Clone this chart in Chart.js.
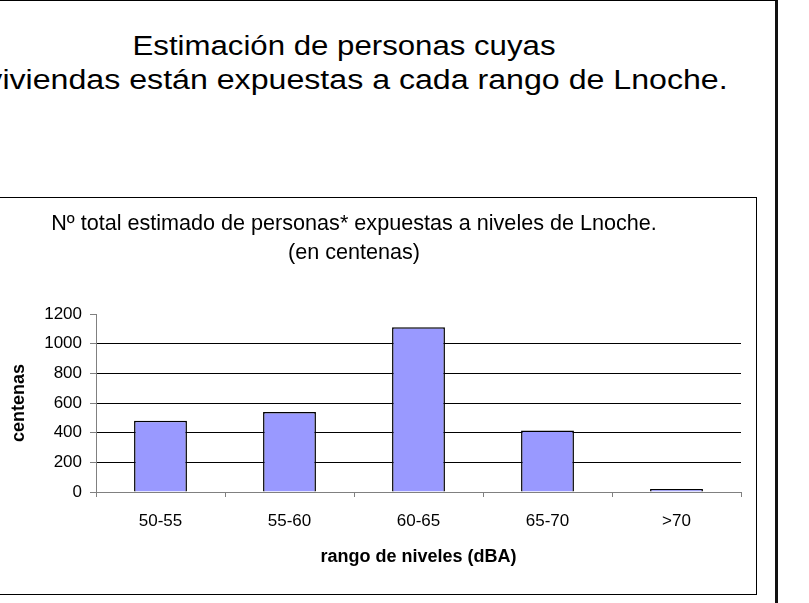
<!DOCTYPE html>
<html><head><meta charset="utf-8">
<script src="https://cdn.jsdelivr.net/npm/chart.js@4.4.1/dist/chart.umd.min.js"></script>
<style>
html,body{margin:0;padding:0;background:#fff;width:809px;height:603px;overflow:hidden;position:relative;font-family:"Liberation Sans",Arial,sans-serif;}
#outer{position:absolute;left:-80px;top:0;width:858px;height:640px;border-top:1px solid #000;border-right:3px solid #111;box-sizing:border-box;}
.tl{position:absolute;font-size:27px;line-height:33px;white-space:nowrap;color:#000;transform-origin:50% 0;}
#t1{left:344px;top:30px;transform:translateX(-50%) scaleX(1.155);}
#t2{left:357px;top:64px;transform:translateX(-50%) scaleX(1.19);}
#box{position:absolute;left:-48px;top:197px;width:805px;height:398px;border:1px solid #000;box-sizing:border-box;}
#wrap{position:absolute;left:-48px;top:198px;width:804px;height:396px;}
</style>
</head><body>
<div id="outer"></div>
<div class="tl" id="t1">Estimación de personas cuyas</div>
<div class="tl" id="t2">viviendas están expuestas a cada rango de Lnoche.</div>
<div id="box"></div>
<div id="wrap"><canvas id="c"></canvas></div>
<script>
const categories = ['50-55', '55-60', '60-65', '65-70', '>70'];
const personas = [480, 540, 1110, 415, 20];
const yMin = 0, yMax = 1200, yStep = 200;
const chartTitle = ['Nº total estimado de personas* expuestas a niveles de Lnoche.', '(en centenas)'];
const xTitle = 'rango de niveles (dBA)';
const yTitle = 'centenas';

const FONT = '"Liberation Sans", Arial, sans-serif';
new Chart(document.getElementById('c'), {
  type: 'bar',
  data: {
    labels: categories,
    datasets: [{
      data: personas,
      backgroundColor: '#9999FF',
      borderColor: '#000',
      borderWidth: 1.5,
      categoryPercentage: 1,
      barPercentage: 0.41
    }]
  },
  options: {
    responsive: true,
    maintainAspectRatio: false,
    animation: false,
    events: [],
    layout: { padding: { left: 15, right: 15, top: 0, bottom: 26 } },
    plugins: {
      legend: { display: false },
      tooltip: { enabled: false },
      title: {
        display: true,
        text: chartTitle,
        color: '#000',
        font: { family: FONT, size: 21.6, weight: 'normal', lineHeight: 29/21.6 },
        padding: { top: 12, bottom: 46 }
      }
    },
    scales: {
      x: {
        afterFit: s => { s.height = 76; },
        border: { display: true, color: '#808080', width: 1 },
        grid: { drawOnChartArea: false, drawTicks: true, tickLength: 5, tickColor: '#808080', offset: true },
        ticks: { color: '#000', font: { family: FONT, size: 17 }, padding: 14, maxRotation: 0, autoSkip: false },
        title: { display: true, text: xTitle, color: '#000', padding: 0, font: { family: FONT, size: 18, weight: 'bold' } }
      },
      y: {
        min: yMin, max: yMax,
        afterFit: s => { s.width = 129; },
        border: { display: true, color: '#808080', width: 1 },
        grid: {
          color: c => (c.tick && (c.tick.value === yMax || c.tick.value === yMin)) ? 'rgba(0,0,0,0)' : '#000',
          lineWidth: 1, drawTicks: true, tickLength: 6, tickColor: '#808080'
        },
        ticks: { stepSize: yStep, color: '#000', font: { family: FONT, size: 17 }, padding: 8, callback: v => String(v) },
        title: { display: true, text: yTitle, color: '#000', padding: { top: 41, bottom: 0 }, font: { family: FONT, size: 18, weight: 'bold' } }
      }
    }
  }
});
</script>
</body></html>
